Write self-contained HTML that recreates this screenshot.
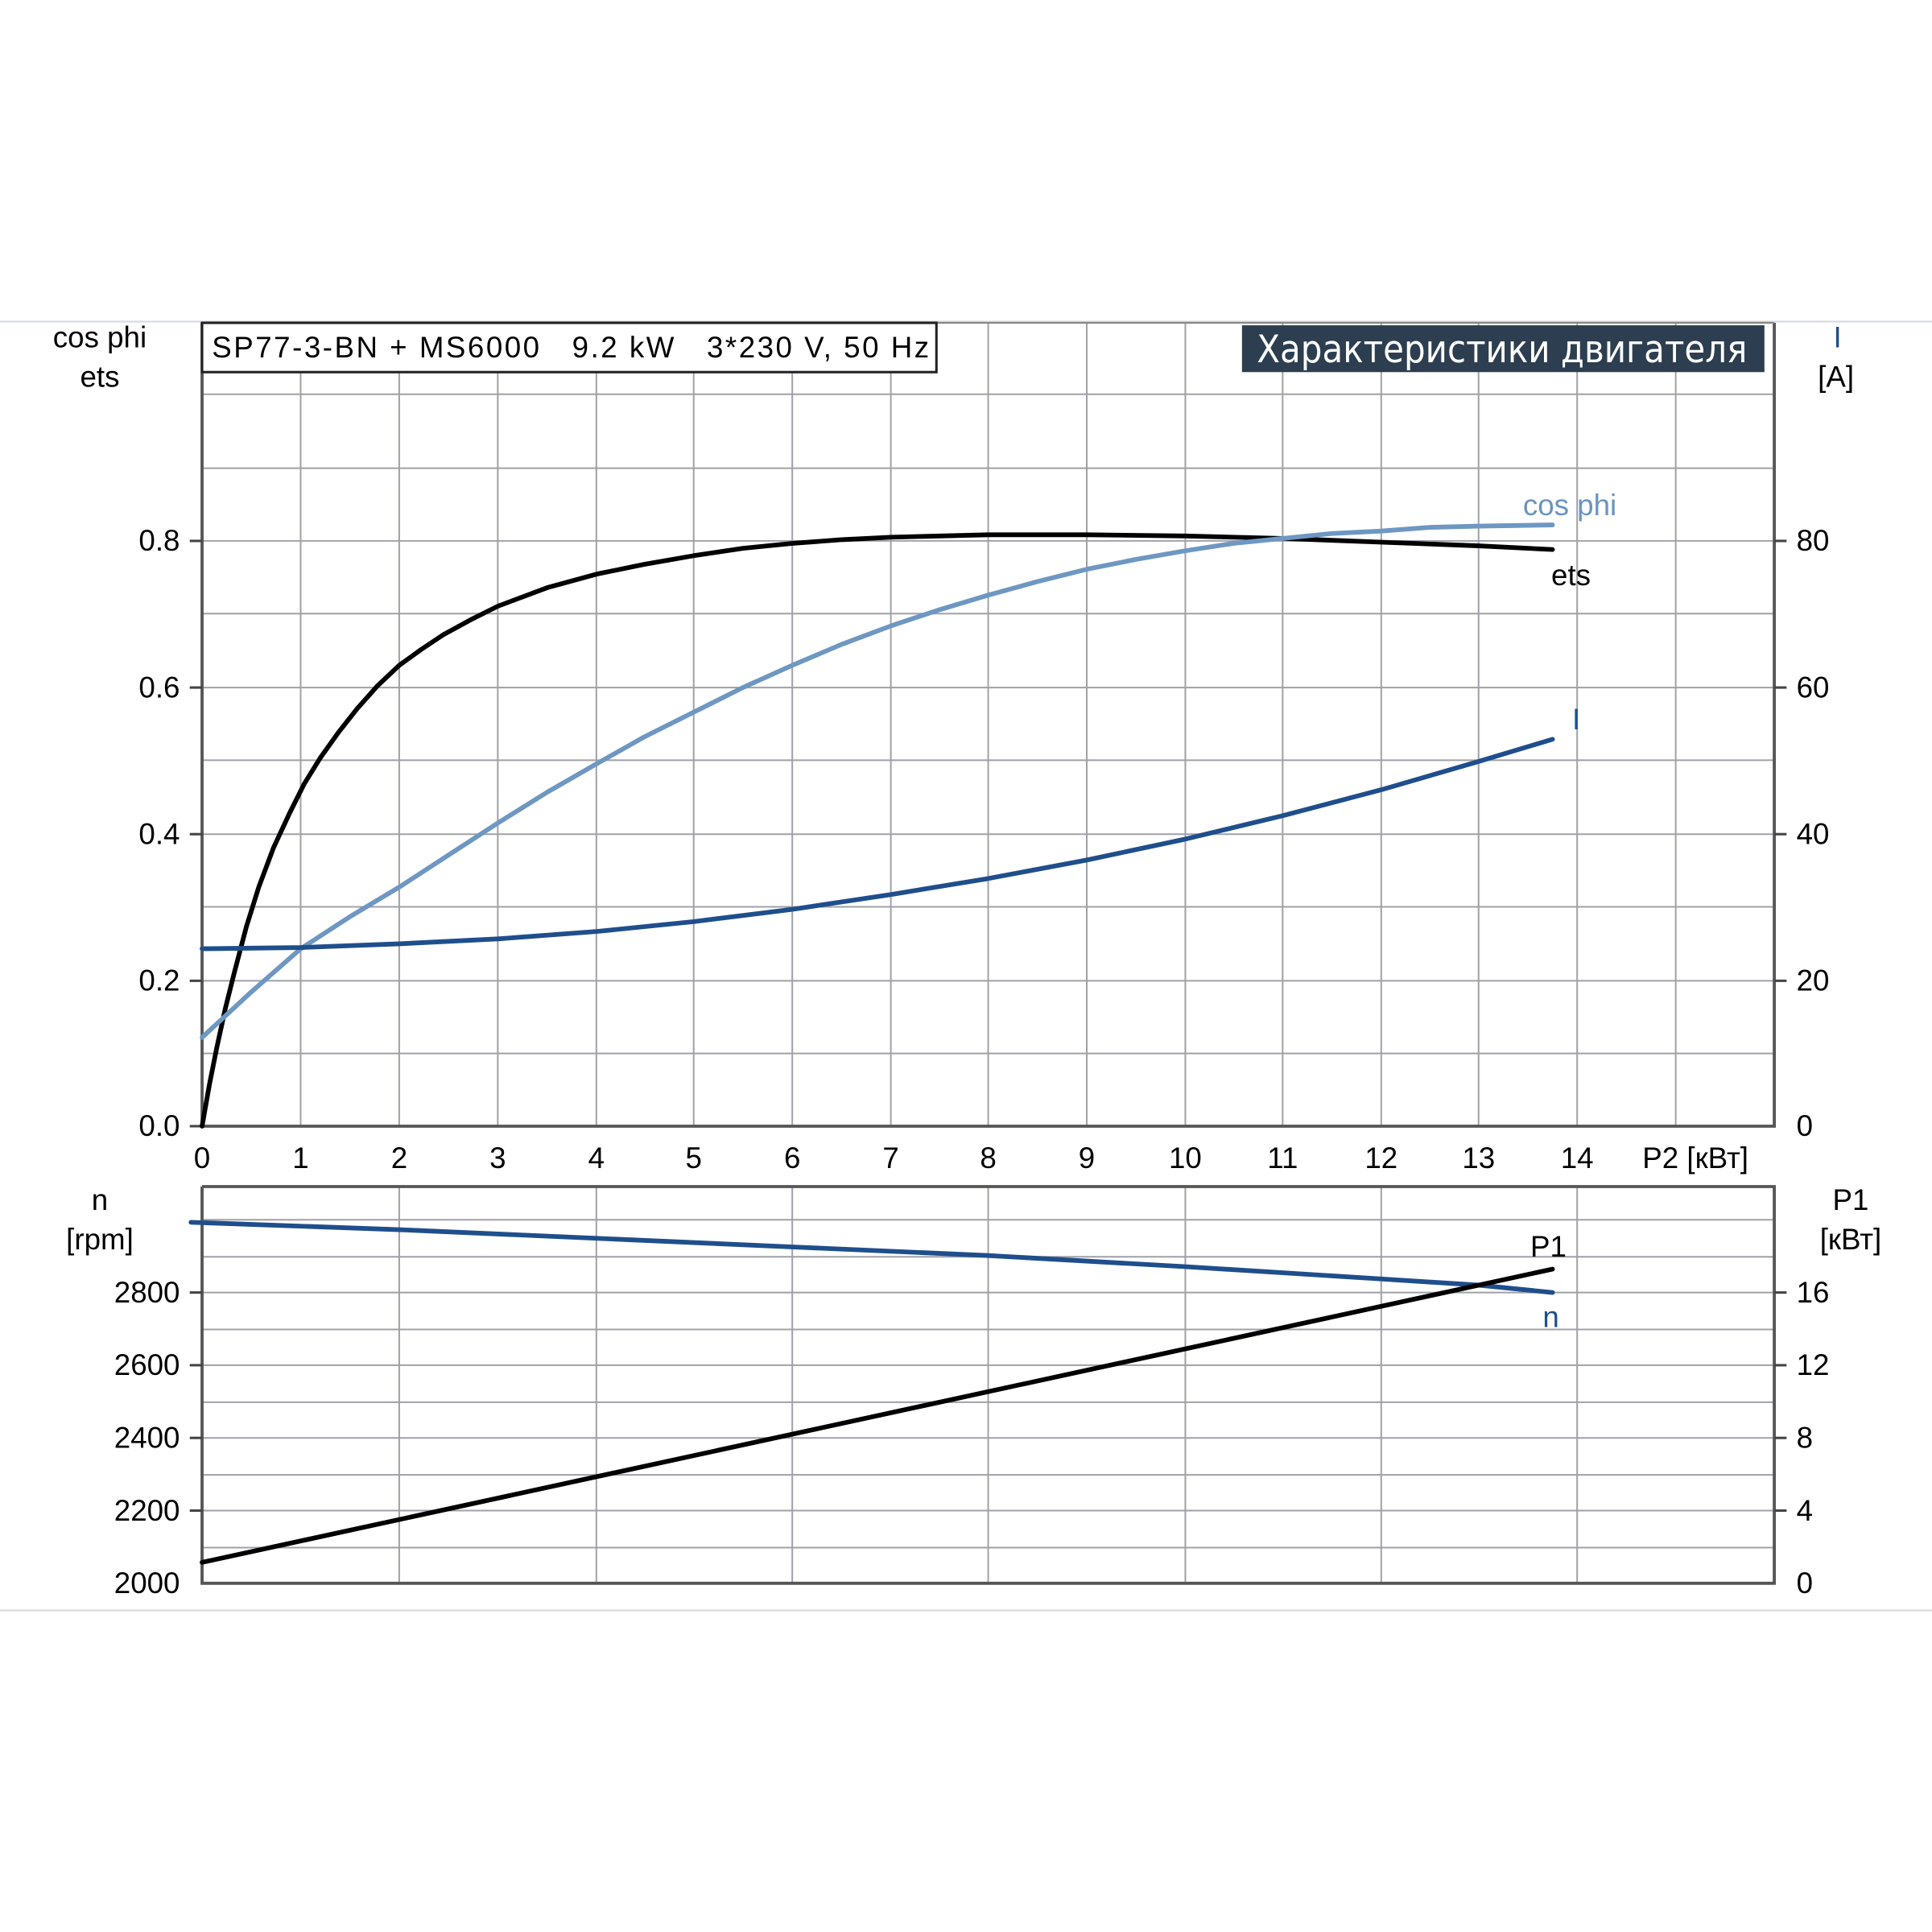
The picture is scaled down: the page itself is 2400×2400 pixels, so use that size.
<!DOCTYPE html>
<html><head><meta charset="utf-8"><style>html,body{margin:0;padding:0;background:#fff}svg{display:block}text{white-space:pre}</style></head>
<body>
<svg xmlns="http://www.w3.org/2000/svg" width="2400" height="2400" viewBox="0 0 1568 1568" font-family="Liberation Sans, DejaVu Sans, sans-serif">
<rect width="1568" height="1568" fill="#fff"/>
<line x1="0" y1="261" x2="1568" y2="261" stroke="#d8dbe0" stroke-width="1.5"/>
<line x1="0" y1="1307" x2="1568" y2="1307" stroke="#d8dbe0" stroke-width="1.5"/>
<g stroke="#a0a0a8" stroke-width="1.3">
<line x1="244" y1="262" x2="244" y2="914"/><line x1="324" y1="262" x2="324" y2="914"/><line x1="404" y1="262" x2="404" y2="914"/><line x1="484" y1="262" x2="484" y2="914"/><line x1="563" y1="262" x2="563" y2="914"/><line x1="643" y1="262" x2="643" y2="914"/><line x1="723" y1="262" x2="723" y2="914"/><line x1="802" y1="262" x2="802" y2="914"/><line x1="882" y1="262" x2="882" y2="914"/><line x1="962" y1="262" x2="962" y2="914"/><line x1="1041" y1="262" x2="1041" y2="914"/><line x1="1121" y1="262" x2="1121" y2="914"/><line x1="1200" y1="262" x2="1200" y2="914"/><line x1="1280" y1="262" x2="1280" y2="914"/><line x1="1360" y1="262" x2="1360" y2="914"/>
<line x1="164" y1="855" x2="1440" y2="855"/><line x1="164" y1="796" x2="1440" y2="796"/><line x1="164" y1="736" x2="1440" y2="736"/><line x1="164" y1="677" x2="1440" y2="677"/><line x1="164" y1="617" x2="1440" y2="617"/><line x1="164" y1="558" x2="1440" y2="558"/><line x1="164" y1="498" x2="1440" y2="498"/><line x1="164" y1="439" x2="1440" y2="439"/><line x1="164" y1="380" x2="1440" y2="380"/><line x1="164" y1="320" x2="1440" y2="320"/>
<line x1="324" y1="963" x2="324" y2="1285"/><line x1="484" y1="963" x2="484" y2="1285"/><line x1="643" y1="963" x2="643" y2="1285"/><line x1="802" y1="963" x2="802" y2="1285"/><line x1="962" y1="963" x2="962" y2="1285"/><line x1="1121" y1="963" x2="1121" y2="1285"/><line x1="1280" y1="963" x2="1280" y2="1285"/>
<line x1="164" y1="1256" x2="1440" y2="1256"/><line x1="164" y1="1226" x2="1440" y2="1226"/><line x1="164" y1="1197" x2="1440" y2="1197"/><line x1="164" y1="1167" x2="1440" y2="1167"/><line x1="164" y1="1138" x2="1440" y2="1138"/><line x1="164" y1="1108" x2="1440" y2="1108"/><line x1="164" y1="1079" x2="1440" y2="1079"/><line x1="164" y1="1049" x2="1440" y2="1049"/><line x1="164" y1="1020" x2="1440" y2="1020"/><line x1="164" y1="990" x2="1440" y2="990"/>
</g>
<g stroke="#555" stroke-width="2.5" fill="none">
<polyline points="164,262 164,914 1440,914 1440,262"/>
<line x1="164" y1="262" x2="1440" y2="262" stroke="#888" stroke-width="1.5"/>
<polyline points="164,963 164,1285 1440,1285 1440,963 164,963"/>
</g>
<g stroke="#444" stroke-width="2">
<line x1="154" y1="439" x2="164" y2="439"/><line x1="154" y1="558" x2="164" y2="558"/><line x1="154" y1="677" x2="164" y2="677"/><line x1="154" y1="796" x2="164" y2="796"/><line x1="154" y1="914" x2="164" y2="914"/>
<line x1="1440" y1="439" x2="1450" y2="439"/><line x1="1440" y1="558" x2="1450" y2="558"/><line x1="1440" y1="677" x2="1450" y2="677"/><line x1="1440" y1="796" x2="1450" y2="796"/>
<line x1="154" y1="1049" x2="164" y2="1049"/><line x1="154" y1="1108" x2="164" y2="1108"/><line x1="154" y1="1167" x2="164" y2="1167"/><line x1="154" y1="1226" x2="164" y2="1226"/>
<line x1="1440" y1="1049" x2="1450" y2="1049"/><line x1="1440" y1="1108" x2="1450" y2="1108"/><line x1="1440" y1="1167" x2="1450" y2="1167"/><line x1="1440" y1="1226" x2="1450" y2="1226"/>
</g>
<rect x="164" y="262" width="596" height="40" fill="#fff" stroke="#222" stroke-width="2"/>
<text x="172" y="290" font-size="24" fill="#000" xml:space="preserve" textLength="582" lengthAdjust="spacing">SP77-3-BN + MS6000   9.2 kW   3*230 V, 50 Hz</text>
<rect x="1008" y="264" width="424" height="38" fill="#2c3e50"/>
<text x="1020" y="294" font-size="31" fill="#fff" font-family="DejaVu Sans Condensed, DejaVu Sans, sans-serif" textLength="398" lengthAdjust="spacingAndGlyphs">Характеристики двигателя</text>
<g font-size="24" fill="#000">
<text x="81" y="282" text-anchor="middle">cos phi</text><text x="81" y="314" text-anchor="middle">ets</text>
<text x="1490" y="314" text-anchor="middle">[A]</text>
<text x="146" y="447" text-anchor="end">0.8</text><text x="146" y="566" text-anchor="end">0.6</text><text x="146" y="685" text-anchor="end">0.4</text><text x="146" y="804" text-anchor="end">0.2</text><text x="146" y="922" text-anchor="end">0.0</text>
<text x="1458" y="447">80</text><text x="1458" y="566">60</text><text x="1458" y="685">40</text><text x="1458" y="804">20</text><text x="1458" y="922">0</text>
<g text-anchor="middle"><text x="164" y="948">0</text><text x="244" y="948">1</text><text x="324" y="948">2</text><text x="404" y="948">3</text><text x="484" y="948">4</text><text x="563" y="948">5</text><text x="643" y="948">6</text><text x="723" y="948">7</text><text x="802" y="948">8</text><text x="882" y="948">9</text><text x="962" y="948">10</text><text x="1041" y="948">11</text><text x="1121" y="948">12</text><text x="1200" y="948">13</text><text x="1280" y="948">14</text></g>
<text x="1333" y="948">P2 [кВт]</text>
<text x="81" y="982" text-anchor="middle">n</text><text x="81" y="1014" text-anchor="middle">[rpm]</text>
<text x="1502" y="982" text-anchor="middle">P1</text><text x="1502" y="1014" text-anchor="middle">[кВт]</text>
<text x="146" y="1057" text-anchor="end">2800</text><text x="146" y="1116" text-anchor="end">2600</text><text x="146" y="1175" text-anchor="end">2400</text><text x="146" y="1234" text-anchor="end">2200</text><text x="146" y="1293" text-anchor="end">2000</text>
<text x="1458" y="1057">16</text><text x="1458" y="1116">12</text><text x="1458" y="1175">8</text><text x="1458" y="1234">4</text><text x="1458" y="1293">0</text>
<text x="1259" y="475">ets</text>
<text x="1242" y="1020">P1</text>
</g>
<text x="1236" y="418" font-size="24" fill="#6a94c0">cos phi</text>
<text x="1276" y="592" font-size="24" fill="#1f4e8c">I</text>
<text x="1488" y="282" font-size="24" fill="#1f4e8c">I</text>
<text x="1252" y="1077" font-size="24" fill="#1f4e8c">n</text>
<g fill="none" stroke-width="3.8" stroke-linejoin="round" stroke-linecap="round">
<polyline stroke="#000" points="164,914 170,880 176,850 183,818 190,790 200,752 210,720 222,688 235,660 247,636 260,615 275,594 290,575 306,557 324,540 342,527 360,515 382,503 404,492 444,477 484,466 523,458 563,451 603,445 643,441 683,438 723,436 802,434 882,434 962,435 1041,437 1121,440 1200,443 1260,446"/>
<polyline stroke="#6e97c2" points="164,842 204,805 244,770 284,744 324,720 364,694 404,668 444,643 484,620 523,598 563,578 603,558 643,540 683,523 723,508 762,495 802,483 842,472 882,462 922,454 962,447 1001,441 1041,437 1081,433 1121,431 1160,428 1200,427 1260,426"/>
<polyline stroke="#1f4e8c" points="164,770 244,769 324,766 404,762 484,756 563,748 643,738 723,726 802,713 882,698 962,681 1041,662 1121,641 1200,618 1260,600"/>
<polyline stroke="#1f4e8c" points="155,992 324,998 484,1005 643,1012 802,1019 962,1028 1121,1038 1200,1043 1260,1049"/>
<line stroke="#000" x1="164" y1="1268" x2="1260" y2="1030"/>
</g>
</svg>
</body></html>
